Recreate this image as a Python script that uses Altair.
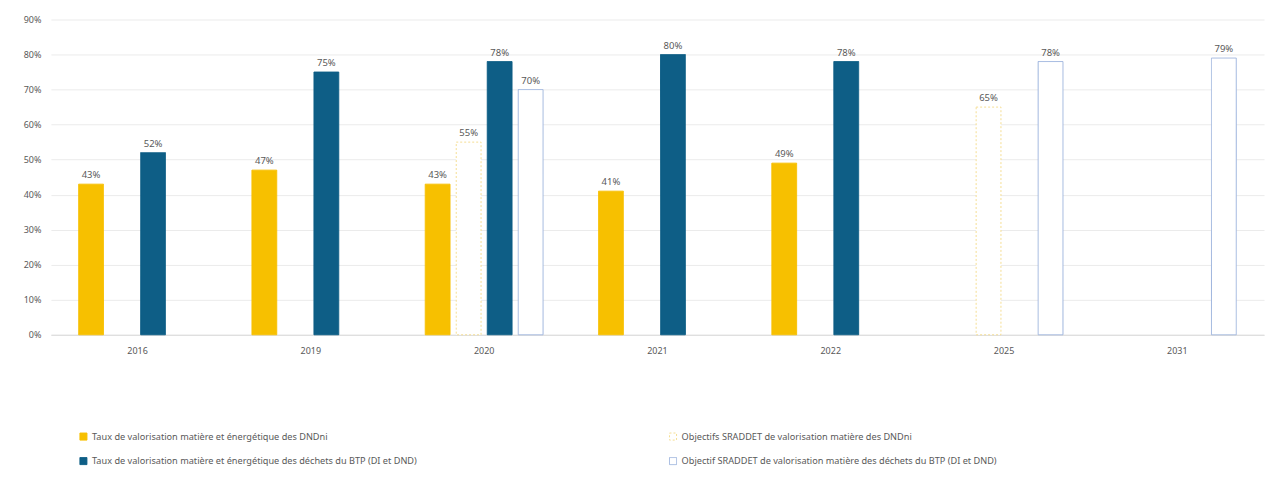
import altair as alt
import pandas as pd

years = ["2016", "2019", "2020", "2021", "2022", "2025", "2031"]
series = [
    "Taux de valorisation matière et énergétique des DNDni",
    "Objectifs SRADDET de valorisation matière des DNDni",
    "Taux de valorisation matière et énergétique des déchets du BTP (DI et DND)",
    "Objectif SRADDET de valorisation matière des déchets du BTP (DI et DND)",
]
taux_dndni = [43, 47, 43, 41, 49, None, None]
obj_dndni = [None, None, 55, None, None, 65, None]
taux_btp = [52, 75, 78, 80, 78, None, None]
obj_btp = [None, None, 70, None, None, 78, 79]

fills = ["#F7C000", "#FFFFFF", "#0E5E86", "#FFFFFF"]
strokes = ["#F7C000", "#F5DE93", "#0E5E86", "#9DB4DD"]
dashes = [[1, 0], [2, 2], [1, 0], [1, 0]]

rows = []
for s, vals in zip(series, [taux_dndni, obj_dndni, taux_btp, obj_btp]):
    for y, v in zip(years, vals):
        if v is not None:
            rows.append({"year": y, "series": s, "value": v, "label": f"{v}%"})
df = pd.DataFrame(rows)

font = "Noto Sans"
gray = "#595959"

x = alt.X("year:N", sort=years,
          scale=alt.Scale(domain=years, paddingInner=0.32, paddingOuter=0.16),
          axis=alt.Axis(title=None, labelAngle=0, ticks=False, domainColor="#D9D9D9",
                        labelColor=gray, labelFontSize=9, labelPadding=12, grid=False,
                        labelFont=font))
xo = alt.XOffset("series:N", scale=alt.Scale(domain=series, paddingInner=0.2, paddingOuter=0))
y = alt.Y("value:Q", scale=alt.Scale(domain=[0, 90]),
          axis=alt.Axis(title=None, values=list(range(0, 91, 10)), labelExpr="datum.value + '%'",
                        ticks=False, domain=False, gridColor="#EBEBEB", labelColor=gray,
                        labelFontSize=9, labelPadding=10, labelFont=font))

leg = alt.Legend(title=None, orient="none", legendX=28, legendY=413, columns=2,
                 columnPadding=250, rowPadding=13, symbolType="square", symbolSize=50,
                 symbolStrokeWidth=1, labelFontSize=9.2, labelColor=gray, labelFont=font,
                 labelLimit=600, direction="horizontal")

bars = alt.Chart(df).mark_bar(strokeWidth=1).encode(
    x=x, xOffset=xo, y=y,
    fill=alt.Fill("series:N", scale=alt.Scale(domain=series, range=fills), legend=leg),
    stroke=alt.Stroke("series:N", scale=alt.Scale(domain=series, range=strokes), legend=leg),
    strokeDash=alt.StrokeDash("series:N", scale=alt.Scale(domain=series, range=dashes), legend=leg),
)

text = alt.Chart(df).mark_text(dy=-9, fontSize=9.5, color=gray, font=font).encode(
    x=x, xOffset=xo, y=y, text="label:N"
)

chart = (bars + text).properties(
    width=1216, height=316,
    autosize=alt.AutoSizeParams(type="none"),
    padding={"left": 43, "top": 11, "right": 2, "bottom": 140},
).configure(background="white").configure_view(strokeWidth=0, stroke=None)

chart.save("out.html", embed_options={"renderer": "svg", "actions": False})
